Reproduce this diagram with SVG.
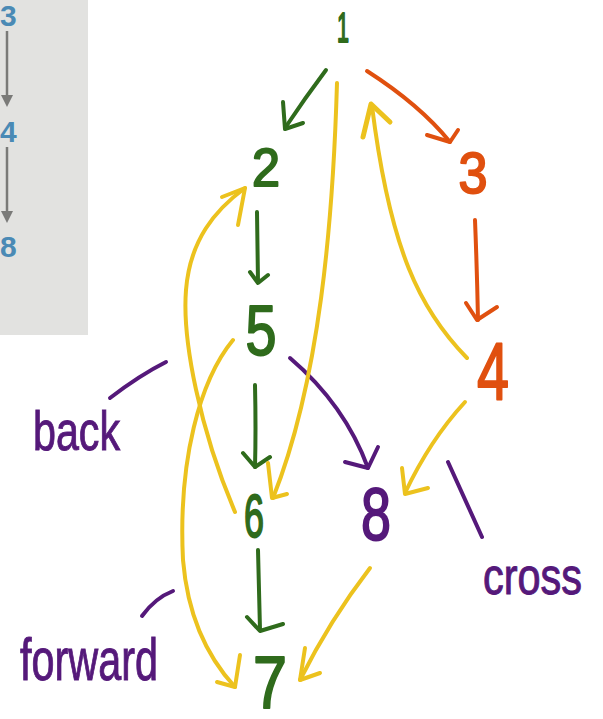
<svg xmlns="http://www.w3.org/2000/svg" width="603" height="719" viewBox="0 0 603 719">
<style>
.c{fill:none;stroke-width:4;stroke-linecap:round;stroke-linejoin:round}
.g{stroke:#2f6b1c}
.o{stroke:#e0500f}
.p{stroke:#55197a}
.y{stroke:#ecc21e}
.n{font-family:"Liberation Sans",Arial,sans-serif;text-anchor:middle;stroke-width:2;stroke-linejoin:round}
.ng{fill:#2f6b1c;stroke:#2f6b1c}
.no{fill:#e0500f;stroke:#e0500f}
.np{fill:#55197a;stroke:#55197a}
.lb{font-family:"Liberation Sans",Arial,sans-serif;fill:#55197a;stroke:#55197a;stroke-width:1}
.bl{font-family:"Liberation Sans",Arial,sans-serif;font-weight:bold;fill:#4a8ab5;font-size:30px}
</style>
<rect x="0" y="0" width="88" height="335" fill="#e2e2e0"/>
<g id="panel">
<text class="bl" x="0" y="26">3</text>
<text class="bl" x="0" y="142">4</text>
<text class="bl" x="0" y="257">8</text>
<line x1="7" y1="31" x2="7" y2="98" stroke="#7a7a78" stroke-width="2.5"/>
<polygon points="1,95 13,95 7,107" fill="#7a7a78"/>
<line x1="7" y1="147" x2="7" y2="214" stroke="#7a7a78" stroke-width="2.5"/>
<polygon points="1,211 13,211 7,223" fill="#7a7a78"/>
</g>
<g id="connectors">
<path class="c g" d="M326,70 Q305,98 285,128"/>
<polyline class="c g" points="283,102 285,129 303,123"/>
<path class="c g" d="M257,212 L258,282"/>
<polyline class="c g" points="250,272 258,283 268,275"/>
<path class="c g" d="M255,385 Q256,430 255,467"/>
<polyline class="c g" points="243,453 255,467 270,457"/>
<path class="c g" d="M258,550 L260,630"/>
<polyline class="c g" points="247,617 260,631 283,624"/>
<path class="c o" d="M367,71 Q420,105 450,142"/>
<polyline class="c o" points="427,135 450,142 458,130"/>
<path class="c o" d="M475,220 Q477,270 478,320"/>
<polyline class="c o" points="466,303 477,320 497,307"/>
<path class="c p" d="M290,358 Q345,405 368,468"/>
<polyline class="c p" points="345,462 368,468 378,447"/>
<path class="c p" d="M448,462 L482,537"/>
<path class="c p" d="M110,398 Q140,375 166,362"/>
<path class="c p" d="M142,616 Q155,598 173,591"/>
<path class="c y" d="M337,83 C333,220 320,380 273,498"/>
<polyline class="c y" points="268,463 272,498 287,494"/>
<path class="c y" d="M467,358 C420,310 390,250 372,106"/>
<polyline class="c y" points="363,137 371,104 390,122" style="stroke-width:5"/>
<path class="c y" d="M235,512 C200,430 182,340 186,290 C190,240 215,210 245,188"/>
<polyline class="c y" points="222,197 245,188 238,225"/>
<path class="c y" d="M233,340 C200,380 178,460 183,560 C188,620 210,660 235,687"/>
<polyline class="c y" points="240,655 235,687 217,682"/>
<path class="c y" d="M465,402 Q430,440 405,493"/>
<polyline class="c y" points="402,468 405,494 428,488"/>
<path class="c y" d="M370,568 Q330,620 300,680"/>
<polyline class="c y" points="305,648 300,680 320,673"/>
</g>
<g id="n1"><text class="n ng" x="343" y="42" font-size="42" textLength="12" lengthAdjust="spacingAndGlyphs">1</text></g>
<g id="n2"><text class="n ng" x="266" y="186" font-size="54" textLength="28" lengthAdjust="spacingAndGlyphs">2</text></g>
<g id="n3"><text class="n no" x="473" y="193" font-size="57" textLength="29" lengthAdjust="spacingAndGlyphs">3</text></g>
<g id="n4"><text class="n no" x="493" y="400" font-size="81" textLength="32" lengthAdjust="spacingAndGlyphs">4</text></g>
<g id="n5"><text class="n ng" x="261" y="355" font-size="70" textLength="31" lengthAdjust="spacingAndGlyphs">5</text></g>
<g id="n6"><text class="n ng" x="254" y="537" font-size="62" textLength="20" lengthAdjust="spacingAndGlyphs">6</text></g>
<g id="n8"><text class="n np" x="376" y="540" font-size="74" textLength="30" lengthAdjust="spacingAndGlyphs">8</text></g>
<g id="n7"><text class="n ng" x="270" y="708" font-size="74" textLength="34" lengthAdjust="spacingAndGlyphs">7</text></g>
<g id="labels">
<text class="lb" x="33" y="450" font-size="56" textLength="87" lengthAdjust="spacingAndGlyphs">back</text>
<text class="lb" x="20" y="680" font-size="60" textLength="138" lengthAdjust="spacingAndGlyphs">forward</text>
<text class="lb" x="483" y="594" font-size="52" textLength="99" lengthAdjust="spacingAndGlyphs">cross</text>
</g>
</svg>
